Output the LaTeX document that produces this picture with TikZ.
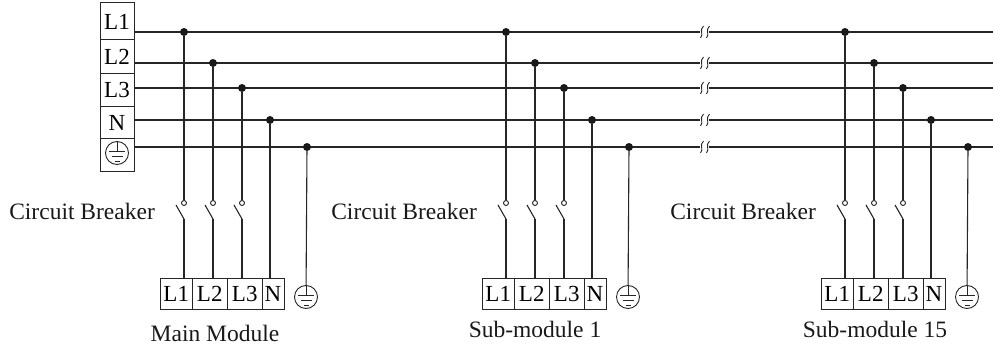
\documentclass[tikz,border=0pt]{standalone}
\usepackage{fontspec}
\setmainfont{Liberation Serif}

\tikzset{
  wire/.style={line width=1.1pt, black!85},
  joint/.style={circle, fill=black!90, inner sep=0pt, minimum size=8pt},
  contact/.style={circle, draw=black!85, line width=0.9pt, fill=white, inner sep=0pt, minimum size=5pt},
  cell/.style={draw=black!85, line width=1pt, inner sep=0pt, text=black, font=\fontsize{23}{25}\selectfont},
  earthring/.style={circle, draw=black!85, line width=0.9pt, inner sep=0pt, minimum size=23pt},
  caption/.style={inner sep=0pt, text=black!90, font=\fontsize{23.5}{26}\selectfont},
}

% earth bars inside a ring node
\newcommand{\earthbars}[1]{%
  \draw[black!85, line width=0.9pt, shift={(#1.center)}]
    (0,-11.5) -- (0,-1.5) (-8,-1.5) -- (8,-1.5)
    (-5.5,3.5) -- (5.5,3.5) (-2.5,8) -- (2.5,8);}

\begin{document}
\begin{tikzpicture}[x=1pt, y=-1pt]
  \useasboundingbox (0,0) rectangle (993,347);

  % Add terminal strip
  \node[cell, minimum width=34pt, minimum height=37pt] (tL1) at (117,21.5) {L1};
  \node[cell, minimum width=34pt, minimum height=34pt] (tL2) at (117,57) {L2};
  \node[cell, minimum width=34pt, minimum height=33pt] (tL3) at (117,90.5) {L3};
  \node[cell, minimum width=34pt, minimum height=32pt] (tN) at (117,123) {N};
  \node[cell, minimum width=34pt, minimum height=33pt] (tPE) at (117,155.5) {};
  \node[earthring] (tg) at (117,153) {};
  \earthbars{tg}

  % Add bus lines with break marks
  \foreach \n/\by in {L1/32, L2/63, L3/88, N/120, PE/147} {
    \coordinate (\n-w) at (134,\by);
    \coordinate (\n-a) at (700,\by);
    \coordinate (\n-b) at (709,\by);
    \coordinate (\n-e) at (993,\by);
    \draw[wire] (\n-w) -- (\n-a);
    \draw[wire] (\n-b) -- (\n-e);
    \draw[black!85, line width=0.9pt] (703.5,\by-6) .. controls (699,\by-2) and (704,\by+2) .. (700.5,\by+6);
    \draw[black!85, line width=0.9pt] (709.5,\by-6) .. controls (705,\by-2) and (710,\by+2) .. (706.5,\by+6);
  }

  % Add modules
  \foreach \m/\x/\title/\tx/\ty in {1/184/{Main Module}/215/333, 2/506/{Sub-module 1}/535/329, 3/845/{Sub-module 15}/875/329} {
    % taps on the bus
    \foreach \p/\dx/\by in {1/0/32, 2/29/63, 3/58/88, 4/86/120, 5/123/147}
      \node[joint] (m\m-d\p) at (\x+\dx,\by) {};

    % module terminals
    \node[cell, minimum width=31.5pt, minimum height=30pt] (m\m-c1) at (\x-7.75,294) {L1};
    \node[cell, minimum width=35.5pt, minimum height=30pt] (m\m-c2) at (\x+25.75,294) {L2};
    \node[cell, minimum width=34.5pt, minimum height=30pt] (m\m-c3) at (\x+60.75,294) {L3};
    \node[cell, minimum width=22pt, minimum height=30pt] (m\m-c4) at (\x+89,294) {N};
    \node[earthring] (m\m-g) at (\x+122,297) {};
    \earthbars{m\m-g}

    % breakers on the phases
    \foreach \p/\dx in {1/0, 2/29, 3/58} {
      \node[contact] (m\m-k\p) at (\x+\dx,203) {};
      \coordinate (m\m-b\p) at (\x+\dx-8,205);
      \coordinate (m\m-t\p) at (\x+\dx,219);
      \draw[wire] (m\m-d\p) -- (m\m-k\p);
      \draw[wire] (m\m-b\p) -- (m\m-t\p);
      \draw[wire] (m\m-t\p) -- (m\m-t\p |- m\m-c\p.north);
    }
    \draw[wire] (m\m-d4) -- (m\m-d4 |- m\m-c4.north);
    \draw[wire] (m\m-d5) -- (m\m-g);

    \node[caption, anchor=east] (m\m-cb) at (\x-29,211) {Circuit Breaker};
    \node[caption] (m\m-name) at (\tx,\ty) {\title};
  }

\end{tikzpicture}
\end{document}
